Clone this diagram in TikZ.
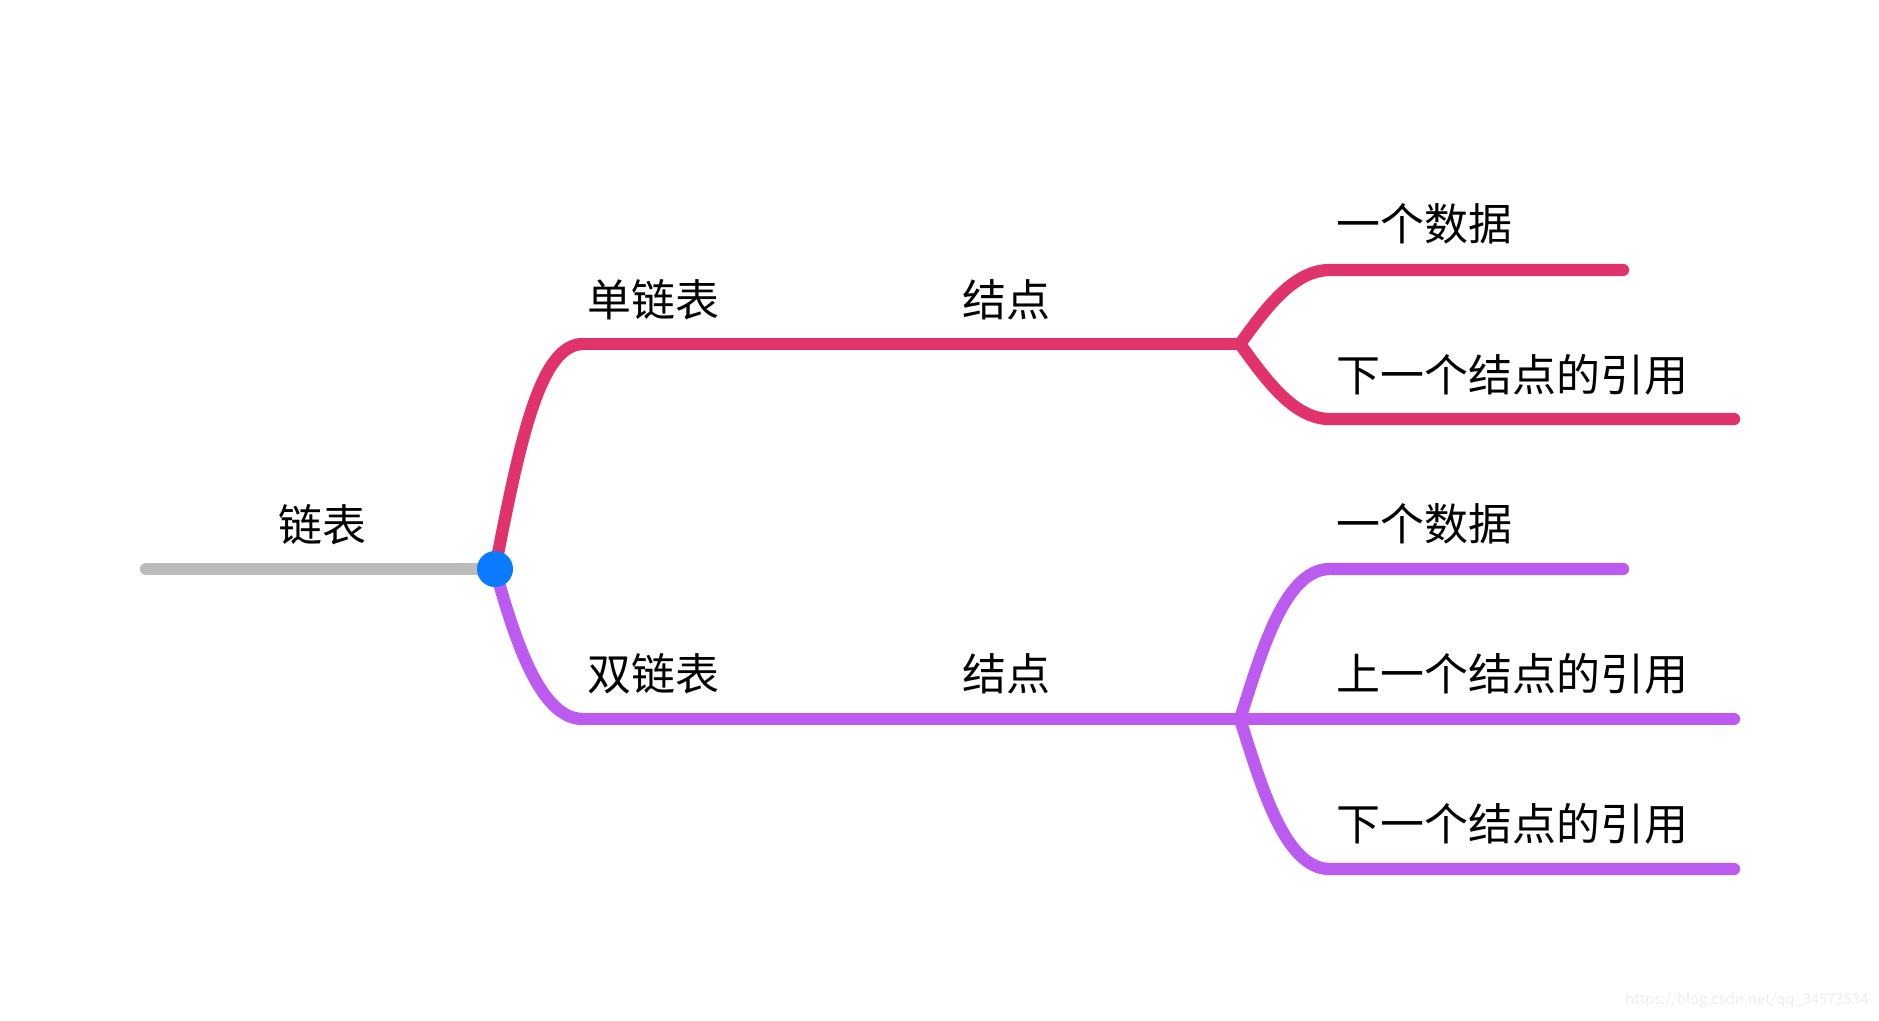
\documentclass[tikz,border=0pt]{standalone}
\usepackage{fontspec}
\setmainfont{Noto Sans CJK SC}
\usepackage{tikz}

\definecolor{rootgray}{HTML}{BBBBBB}
\definecolor{singlered}{HTML}{E0336B}
\definecolor{doublepurple}{HTML}{BB5BF0}
\definecolor{hubblue}{HTML}{0A7AFF}

\tikzset{
    branch/.style={line width=3.5pt, line cap=round},
    label/.style={anchor=west, inner sep=0pt, font=\fontsize{12.5pt}{14pt}\selectfont}
}

\begin{document}
\begin{tikzpicture}[x=0.01cm, y=-0.01cm]
    	\useasboundingbox (0,0) rectangle (1879,1020);
    	
    	\coordinate (start) at (146, 569);
    	\coordinate (hub)   at (495, 569);
    	
    	\coordinate (s1) at (583, 344);
    	\coordinate (s2) at (870, 344);
    	\coordinate (s3) at (1240, 344);
    	\coordinate (s4) at (1330, 270);
    	\coordinate (s5) at (1623, 270);
    	\coordinate (s6) at (1330, 419);
    	\coordinate (s7) at (1734, 419);
    	
    	\coordinate (d1) at (583, 719);
    	\coordinate (d2) at (870, 719);
    	\coordinate (d3) at (1240, 719);
    	\coordinate (d4) at (1330, 569);
    	\coordinate (d5) at (1623, 569);
    	\coordinate (d6) at (1734, 719);
    	\coordinate (d7) at (1330, 869);
    	\coordinate (d8) at (1734, 869);
    	
    	\node[label] (list)   at (278, 525)  {链表};
    	\node[label] (single) at (587, 300)  {单链表};
    	\node[label] (snode)  at (962, 300)  {结点};
    	\node[label] (sdata)  at (1336, 224) {一个数据};
    	\node[label] (snext)  at (1336, 375) {下一个结点的引用};
    	\node[label] (double) at (587, 674)  {双链表};
    	\node[label] (dnode)  at (962, 674)  {结点};
    	\node[label] (ddata)  at (1336, 524) {一个数据};
    	\node[label] (dprev)  at (1336, 674) {上一个结点的引用};
    	\node[label] (dnext)  at (1336, 824) {下一个结点的引用};
    	
    	\draw[branch, rootgray] (start) -- (hub);
    	
    	\draw[branch, singlered] (hub) .. controls (520, 440) and (540, 344) .. (s1);
    	\draw[branch, singlered] (s1) -- (s2);
    	\draw[branch, singlered] (s2) -- (s3);
    	\draw[branch, singlered] (s3) .. controls (1268, 305) and (1295, 270) .. (s4) -- (s5);
    	\draw[branch, singlered] (s3) .. controls (1268, 383) and (1295, 419) .. (s6) -- (s7);
    	
    	\draw[branch, doublepurple] (hub) .. controls (515, 640) and (540, 719) .. (d1);
    	\draw[branch, doublepurple] (d1) -- (d2);
    	\draw[branch, doublepurple] (d2) -- (d3);
    	\draw[branch, doublepurple] (d3) .. controls (1262, 650) and (1285, 569) .. (d4) -- (d5);
    	\draw[branch, doublepurple] (d3) -- (d6);
    	\draw[branch, doublepurple] (d3) .. controls (1262, 788) and (1285, 869) .. (d7) -- (d8);
    	
    	\node[shape=circle, fill=hubblue, minimum size=0.36cm, inner sep=0pt] (dot) at (hub) {};
    	
    	\node[anchor=east, inner sep=0pt, text=black!7, font=\fontsize{4.2pt}{5pt}\selectfont] (mark) at (1869, 1000) {https://blog.csdn.net/qq\_34573534};
    	
\end{tikzpicture}
\end{document}
